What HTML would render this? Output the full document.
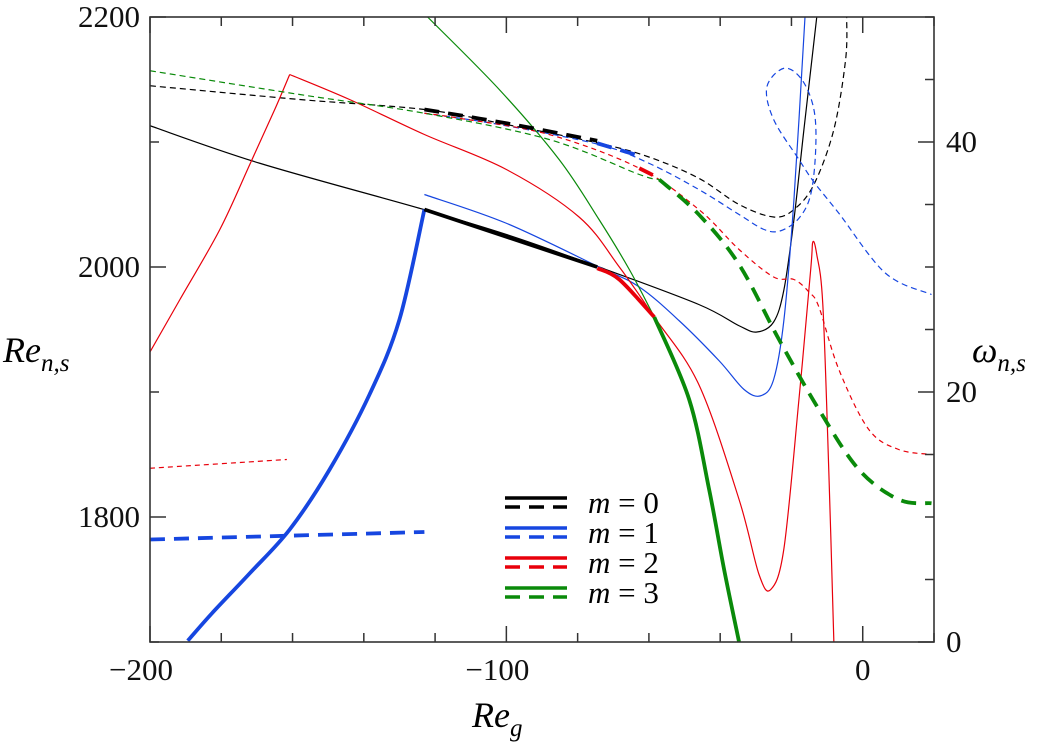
<!DOCTYPE html>
<html><head><meta charset="utf-8">
<style>
body{margin:0;background:#fff;}
svg{display:block;font-family:"Liberation Serif",serif;}
</style></head>
<body>
<svg id="chart" width="1050" height="749" viewBox="0 0 1050 749">
<defs><clipPath id="clip"><rect x="150" y="17" width="784" height="625"/></clipPath></defs>
<g id="curves" clip-path="url(#clip)"></g>
<rect x="150" y="17" width="784" height="625" fill="none" stroke="#333" stroke-width="1.6"/>
<g id="ticks" stroke="#333" stroke-width="1.5"></g>
<g id="labels" font-size="31" fill="#111"></g>
<text x="3" y="362" font-size="36" font-style="italic">Re<tspan font-size="25" dy="9">n,s</tspan></text>
<text x="972" y="362" font-size="36" font-style="italic">ω<tspan font-size="25" dy="9">n,s</tspan></text>
<text x="472" y="727" font-size="36" font-style="italic">Re<tspan font-size="25" dy="9">g</tspan></text>
<g id="legend"></g>
</svg>
<script>
// axis ranges
const xDomain=[-200,20], reDomain=[1700,2200], omDomain=[0,50];
const xTicks=[-200,-100,0];
const reTicks=[2200,2000,1800];
const omTicks=[0,20,40];
const X=v=>150+(v-xDomain[0])*784/(xDomain[1]-xDomain[0]);
const YR=v=>642-(v-reDomain[0])*625/(reDomain[1]-reDomain[0]);
const YO=v=>642-(v-omDomain[0])*625/(omDomain[1]-omDomain[0]);

// series data
const m0SolidReg=[-200,-169.2,-124.4,-100,-74,-46,-34.7,-29.7,-25,-22.1,-19.3,-16.5,-12.9];
const m0SolidRe=[2113,2083,2047,2026,2000,1970,1953,1948,1956,1982,2038,2110,2200];
const m0ThickReg=[-123,-74.5];
const m0ThickRe=[2046,2000];
const m0DashReg=[-200,-158,-123,-100,-74,-60,-46,-34.7,-25,-19.3,-13.7,-8.1,-4.8,-4.5];
const m0DashOm=[44.5,43.4,42.6,41.4,39.9,38.8,37.1,35,34,34.6,36.6,41,46.6,50];
const m0ThickDashReg=[-123,-100,-74.5];
const m0ThickDashOm=[42.6,41.5,40.1];

const m1SolidReg=[-123,-100,-74,-62.7,-51.5,-40.3,-33.3,-28.6,-25,-22.1,-19.3,-16.2];
const m1SolidRe=[2058,2035,2000,1984,1957,1925,1902,1897,1910,1958,2054,2200];
const m1ThickReg=[-189.4,-182.6,-172,-160.8,-149.6,-138.4,-130,-123];
const m1ThickRe=[1701,1723,1755,1790,1838,1898,1958,2046];
const m1DashReg=[-123,-102,-74,-60,-46,-34.7,-27.7,-23,-17.9,-14.6,-13.2,-13.7,-17.1,-22.1,-26.9,-25,-17.9,-13.7,-6.7,6.4,19.3];
const m1DashOm=[42.3,41.4,39.8,38.3,36.2,34.2,33,32.9,33.9,35.8,39.4,42.6,45,45.9,44.4,41.8,38.6,36.8,34.3,29.5,27.8];
const m1ThickDashReg=[-74.5,-62.7];
const m1ThickDashOm=[39.9,38.9];
const m1LeftDashReg=[-200,-123];
const m1LeftDashOm=[8.2,8.8];

const m2SolidLeftReg=[-200,-191.6,-180.4,-172,-165,-160.8];
const m2SolidLeftRe=[1932,1974,2030,2082,2126,2154];
const m2SolidReg=[-160.8,-144,-123,-100,-79.6,-68.3,-58.5,-46,-34.7,-29.1,-25.8,-22.1,-17.9,-14.6,-14,-12.9,-11.2,-9.5,-8.1];
const m2SolidRe=[2154,2134,2106,2078,2040,2000,1960,1906,1814,1754,1742,1775,1894,1998,2020,2010,1970,1835,1700];
const m2ThickReg=[-74.5,-68.3,-58.5];
const m2ThickRe=[1999,1990,1960];
const m2DashReg=[-123,-113.2,-88,-62.7,-46,-34.7,-25,-19.3,-15.1,-12.3,-6.7,1.7,10.1,19.3];
const m2DashOm=[42.3,41.9,40.6,37.9,34.6,31.4,29.2,29,28,26.8,21.8,17,15.4,15];
const m2ThickDashReg=[-62.7,-57.1];
const m2ThickDashOm=[37.9,37.1];
const m2LeftDashReg=[-200,-161.6];
const m2LeftDashOm=[13.9,14.6];

const m3SolidReg=[-122.1,-102,-85.2,-74,-65.5,-58.5];
const m3SolidRe=[2200,2142,2086,2038,1998,1960];
const m3ThickReg=[-58.5,-48.7,-43.1,-38.9,-34.7];
const m3ThickRe=[1960,1894,1822,1758,1700];
const m3DashReg=[-200,-158,-123,-88,-62.7,-57.1];
const m3DashOm=[45.7,43.8,42.3,40.2,37.4,37];
const m3ThickDashReg=[-57.1,-46,-34.7,-23.5,-12.3,-1.1,10.1,19.3];
const m3ThickDashOm=[37,34.2,30.2,24.2,18.6,13.8,11.4,11.1];

const C={k:'#000',b:'#1646e0',r:'#e8000b',g:'#0a8a0a'};
const series=[
 [m0SolidReg,m0SolidRe,YR,C.k,1.2,null,'m0-solid-re'],
 [m0DashReg,m0DashOm,YO,C.k,1.2,'6 4','m0-dashed-omega'],
 [m1SolidReg,m1SolidRe,YR,C.b,1.2,null,'m1-solid-re'],
 [m1DashReg,m1DashOm,YO,C.b,1.2,'6 4','m1-dashed-omega'],
 [m2SolidLeftReg,m2SolidLeftRe,YR,C.r,1.2,null,'m2-solid-left-re'],
 [m2SolidReg,m2SolidRe,YR,C.r,1.2,null,'m2-solid-re'],
 [m2DashReg,m2DashOm,YO,C.r,1.2,'5 4','m2-dashed-omega'],
 [m2LeftDashReg,m2LeftDashOm,YO,C.r,1.2,'5 4','m2-left-dashed-omega'],
 [m3SolidReg,m3SolidRe,YR,C.g,1.2,null,'m3-solid-re'],
 [m3DashReg,m3DashOm,YO,C.g,1.2,'6 4','m3-dashed-omega'],
 [m1ThickReg,m1ThickRe,YR,C.b,3.8,null,'m1-thick-re'],
 [m1LeftDashReg,m1LeftDashOm,YO,C.b,3.8,'15 9','m1-left-thick-dashed-omega'],
 [m0ThickReg,m0ThickRe,YR,C.k,3.8,null,'m0-thick-re'],
 [m0ThickDashReg,m0ThickDashOm,YO,C.k,3.8,'15 9','m0-thick-dashed-omega'],
 [m1ThickDashReg,m1ThickDashOm,YO,C.b,3.8,'15 9','m1-thick-dashed-omega'],
 [m2ThickReg,m2ThickRe,YR,C.r,3.8,null,'m2-thick-re'],
 [m2ThickDashReg,m2ThickDashOm,YO,C.r,3.8,'15 9','m2-thick-dashed-omega'],
 [m3ThickReg,m3ThickRe,YR,C.g,3.8,null,'m3-thick-re'],
 [m3ThickDashReg,m3ThickDashOm,YO,C.g,3.8,'15 9','m3-thick-dashed-omega'],
];
const NS='http://www.w3.org/2000/svg';
function mk(tag,attrs,parent){const e=document.createElementNS(NS,tag);for(const k in attrs)e.setAttribute(k,attrs[k]);parent.appendChild(e);return e;}
const cg=document.getElementById('curves');
function smooth(pts){
 let d='M'+pts[0][0]+','+pts[0][1];
 for(let i=0;i<pts.length-1;i++){
  const p0=pts[i-1]||pts[i],p1=pts[i],p2=pts[i+1],p3=pts[i+2]||p2;
  const c1=[p1[0]+(p2[0]-p0[0])/6,p1[1]+(p2[1]-p0[1])/6];
  const c2=[p2[0]-(p3[0]-p1[0])/6,p2[1]-(p3[1]-p1[1])/6];
  d+='C'+c1.join(',')+' '+c2.join(',')+' '+p2.join(',');
 }
 return d;
}
series.forEach(s=>{
 const pts=s[0].map((v,i)=>[X(v),s[2](s[1][i])]);
 const p=mk('path',{d:smooth(pts),fill:'none',stroke:s[3],'stroke-width':s[4]},cg);
 if(s[5])p.setAttribute('stroke-dasharray',s[5]);
 
 
});
// ticks
const tg=document.getElementById('ticks');
for(let v=-200;v<=20;v+=20){
 const L=(v%100===0)?16:9;
 mk('line',{x1:X(v),x2:X(v),y1:642,y2:642-L},tg);
 mk('line',{x1:X(v),x2:X(v),y1:17,y2:17+L},tg);
}
for(let v=1700;v<=2200;v+=100){
 const L=(v%200===0)?16:9;
 mk('line',{x1:150,x2:150+L,y1:YR(v),y2:YR(v)},tg);
}
for(let v=0;v<=50;v+=5){
 const L=(v%20===0)?16:9;
 mk('line',{x1:934,x2:934-L,y1:YO(v),y2:YO(v)},tg);
}
const lg=document.getElementById('labels');
xTicks.forEach(v=>{const t=mk('text',{x:X(v)-(v<0?9:0),y:680,'text-anchor':'middle'},lg);t.textContent=(v<0?'\u2212':'')+Math.abs(v);
 });
reTicks.forEach(v=>{const t=mk('text',{x:140,y:YR(v)+10,'text-anchor':'end'},lg);t.textContent=v;
 });
omTicks.forEach(v=>{const t=mk('text',{x:946,y:YO(v)+10},lg);t.textContent=v;
 });
// legend
const legendLabels=['0','1','2','3'];
const legendColors=[C.k,C.b,C.r,C.g];
const leg=document.getElementById('legend');
legendLabels.forEach((m,i)=>{
 const y=498+i*30;
 const a=mk('line',{x1:505,x2:567,y1:y,y2:y,stroke:legendColors[i],'stroke-width':3.5},leg);
 
 const b=mk('line',{x1:505,x2:567,y1:y+9,y2:y+9,stroke:legendColors[i],'stroke-width':3.5,'stroke-dasharray':'15 9'},leg);
 
 const t=mk('text',{x:588,y:y+15,'font-size':31},leg);
 t.innerHTML='<tspan font-style="italic">m</tspan> = '+m;
 
});
</script>
</body></html>
